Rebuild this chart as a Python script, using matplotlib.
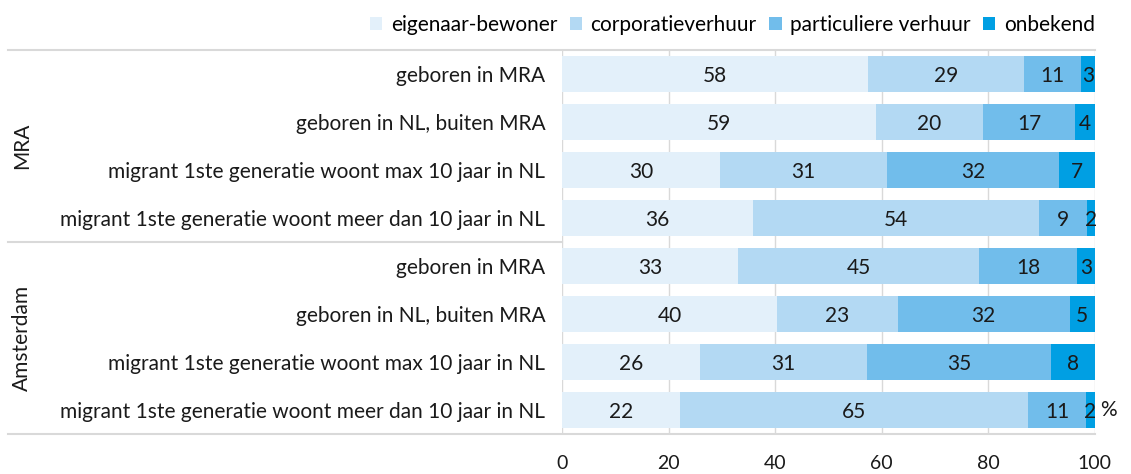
import matplotlib.pyplot as plt
from matplotlib.lines import Line2D

plt.rcParams['font.family'] = ['Lato', 'DejaVu Sans']

# categorieen (van boven naar beneden)
categorieen = [
    'geboren in MRA',
    'geboren in NL, buiten MRA',
    'migrant 1ste generatie woont max 10 jaar in NL',
    'migrant 1ste generatie woont meer dan 10 jaar in NL',
] * 2
groepen = ['MRA', 'Amsterdam']

reeksen = ['eigenaar-bewoner', 'corporatieverhuur', 'particuliere verhuur', 'onbekend']
kleuren = ['#e3f0fa', '#b3d9f3', '#71bdeb', '#009fe3']

# aandelen in % per rij (MRA eerst, dan Amsterdam)
eigenaar = [57.5, 58.9, 29.6, 35.8, 33.0, 40.3, 25.8, 22.1]
corporatie = [29.3, 20.1, 31.4, 53.7, 45.3, 22.7, 31.4, 65.4]
particulier = [10.6, 17.3, 32.3, 9.0, 18.4, 32.3, 34.6, 10.9]
onbekend = [2.6, 3.7, 6.7, 1.5, 3.3, 4.7, 8.2, 1.6]

# labels zoals in de grafiek
labels = [
    [58, 59, 30, 36, 33, 40, 26, 22],
    [29, 20, 31, 54, 45, 23, 31, 65],
    [11, 17, 32, 9, 18, 32, 35, 11],
    [3, 4, 7, 2, 3, 5, 8, 2],
]

data = [eigenaar, corporatie, particulier, onbekend]
fs = 15

fig = plt.figure(figsize=(11.31, 4.74), dpi=100)
ax = fig.add_axes([0.497, 0.0844, 0.471, 0.8101])

n = len(categorieen)
y = list(range(n))
links = [0.0] * n
for reeks, waarden, kleur, lab in zip(reeksen, data, kleuren, labels):
    ax.barh(y, waarden, left=links, height=0.77, color=kleur, label=reeks, zorder=2)
    for i, (w, l, t) in enumerate(zip(waarden, links, lab)):
        ax.text(l + w / 2, i + 0.04, str(t), ha='center', va='center', fontsize=fs,
                color='#1a1a1a', zorder=3)
    links = [a + b for a, b in zip(links, waarden)]

ax.set_ylim(n - 0.5, -0.5)
ax.set_xlim(0, 100)
ax.set_yticks(y)
ax.set_yticklabels(categorieen, fontsize=fs, color='#1a1a1a')
ax.set_xticks([0, 20, 40, 60, 80, 100])
ax.tick_params(axis='x', length=0, pad=15, labelsize=14, labelcolor='#1a1a1a')
ax.tick_params(axis='y', length=0, pad=12)
for s in ax.spines.values():
    s.set_visible(False)
ax.grid(axis='x', color='#d9d9d9', linewidth=1, zorder=0)
ax.set_axisbelow(True)

ax.annotate('%', xy=(100, n - 1), xytext=(4, 0), textcoords='offset points',
            ha='left', va='center', fontsize=fs, color='#1a1a1a')

# scheidingslijnen groepen
lijnkleur = '#d9d9d9'
x0 = 8 / 1131
x_as = 0.497
x_rechts = 0.968
for yy, xr in [(-0.5, x_rechts), (3.5, x_as), (7.5, x_rechts)]:
    yf = fig.transFigure.inverted().transform(ax.transData.transform((0, yy)))[1]
    fig.add_artist(Line2D([x0, xr], [yf, yf], color=lijnkleur, linewidth=1.5))

for g, groep in enumerate(groepen):
    yc = g * 4 + 1.5
    yf = fig.transFigure.inverted().transform(ax.transData.transform((0, yc)))[1]
    fig.text(22 / 1131, yf, groep, rotation=90, ha='center', va='center',
             fontsize=fs, color='#1a1a1a')

ax.legend(loc='lower right', bbox_to_anchor=(1.0, 1.04), ncol=4, frameon=False,
          fontsize=fs, handlelength=0.6, handleheight=0.6, handletextpad=0.4,
          columnspacing=0.6, borderaxespad=0, borderpad=0)

fig.savefig('out.png', dpi=100)
